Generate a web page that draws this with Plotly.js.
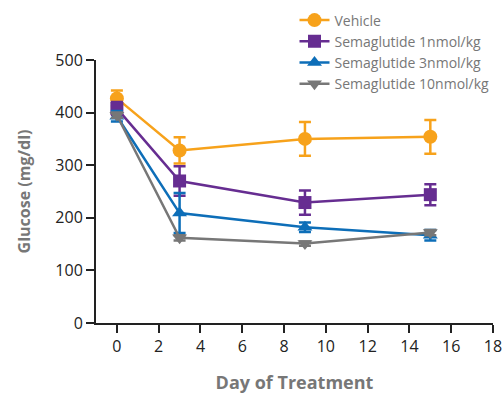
<!DOCTYPE html>
<html><head><meta charset="utf-8">
<script src="https://cdn.plot.ly/plotly-3.0.1.min.js"></script>
<style>html,body{margin:0;padding:0;background:#fff}</style>
</head><body>
<div id="chart" style="width:504px;height:394px"></div>
<script>
const days = [0, 3, 9, 15];
const seriesNames = ["Vehicle", "Semaglutide 1nmol/kg", "Semaglutide 3nmol/kg", "Semaglutide 10nmol/kg"];
const vehicle = [427, 328, 350, 354];
const vehicleErr = [15, 25, 32, 32];
const sema1 = [408, 270, 229, 244];
const sema1Err = [12, 28, 23, 20];
const sema3 = [393, 209, 182, 167];
const sema3Err = [10, 38, 9, 10];
const sema10 = [395, 162, 151, 172];
const sema10Err = [5, 5, 4, 5];
const colors = ["#F7A21B", "#662D91", "#0D6EB8", "#777777"];
const symbols = ["circle", "square", "triangle-up", "triangle-down"];
const values = [vehicle, sema1, sema3, sema10];
const errs = [vehicleErr, sema1Err, sema3Err, sema10Err];
const sizes = [14, 13, 13, 13];

const traces = values.map((v, i) => ({
  x: days, y: v, name: seriesNames[i], type: 'scatter', mode: 'lines+markers',
  line: {color: colors[i], width: 2.5},
  marker: {color: colors[i], symbol: symbols[i], size: sizes[i]},
  error_y: {type: 'data', array: errs[i], visible: true, color: colors[i], thickness: 2.5, width: 6}
}));

const layout = {
  width: 504, height: 394,
  margin: {l: 96, r: 11, t: 60, b: 71, autoexpand: false},
  paper_bgcolor: '#fff', plot_bgcolor: '#fff',
  font: {family: 'Open Sans, sans-serif', color: '#222'},
  showlegend: true,
  legend: {x: 0.5, y: 1.211, xanchor: 'left', yanchor: 'top',
           font: {size: 14, color: '#777'}, bgcolor: 'rgba(0,0,0,0)', tracegroupgap: 0},
  xaxis: {
    range: [-1, 18], tickvals: [0,2,4,6,8,10,12,14,16,18],
    showgrid: false, zeroline: false, showline: true, linecolor: '#222', linewidth: 2,
    ticks: 'outside', ticklen: 8, tickwidth: 2, tickcolor: '#222',
    tickfont: {size: 16, color: '#222'},
    title: {text: 'Day of Treatment', font: {size: 18, color: '#777', family: 'Open Sans, sans-serif', weight: 'bold'}, standoff: 22}
  },
  yaxis: {
    range: [0, 500], tickvals: [0,100,200,300,400,500],
    showgrid: false, zeroline: false, showline: true, linecolor: '#222', linewidth: 2,
    ticks: 'outside', ticklen: 8, tickwidth: 2, tickcolor: '#222',
    tickfont: {size: 16, color: '#222'},
    title: {text: 'Glucose (mg/dl)', font: {size: 16, color: '#777', family: 'Open Sans, sans-serif', weight: 'bold'}, standoff: 21}
  }
};
Plotly.newPlot('chart', traces, layout, {displayModeBar: false, staticPlot: true});
</script>
</body></html>
